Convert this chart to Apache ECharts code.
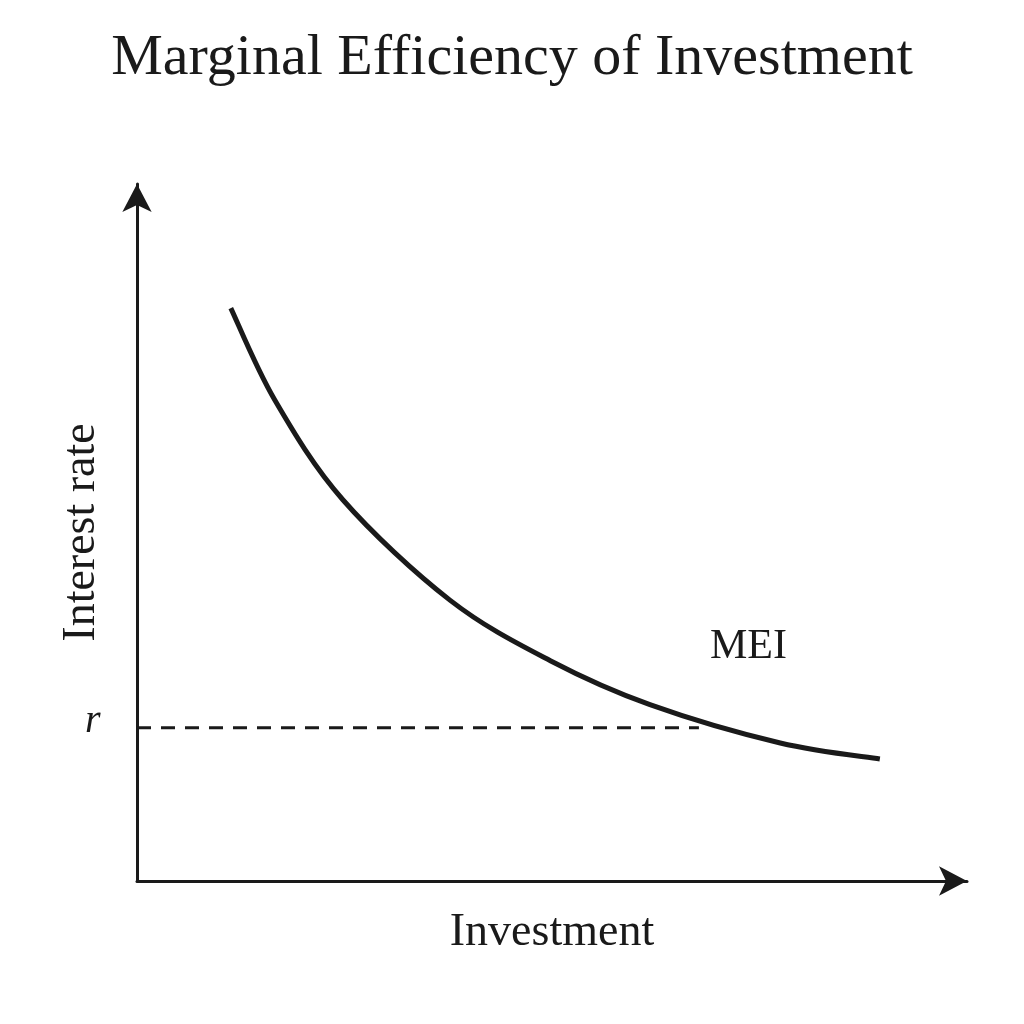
<!DOCTYPE html>
<html>
<head>
<meta charset="utf-8">
<script src="https://cdn.jsdelivr.net/npm/echarts@6/dist/echarts.min.js"></script>
<style>
  html, body { margin: 0; padding: 0; background: #fff; }
  #chart { width: 1024px; height: 1024px; }
</style>
</head>
<body>
<div id="chart"></div>
<script>
// MEI curve (investment, interest rate)
const meiX = [11.3, 16.6, 24.8, 37.7, 49.8, 61.8, 77.5, 89.5];
const meiY = [82.2, 69.0, 54.7, 40.3, 31.6, 25.3, 19.8, 17.5];
// interest rate r and where its dashed guide stops
const rateR = 22.0;
const rateEndX = 67.7;

const serif = "'Liberation Serif', 'DejaVu Serif', serif";
const ink = '#1a1a1a';

const chart = echarts.init(document.getElementById('chart'));

// smooth curve through the read points (catmull-rom -> bezier, in pixels)
function renderCurve(params, api) {
  const pts = meiX.map((x, i) => api.coord([x, meiY[i]]));
  let d = 'M' + pts[0][0] + ' ' + pts[0][1];
  for (let i = 0; i < pts.length - 1; i++) {
    const p0 = pts[Math.max(i - 1, 0)];
    const p1 = pts[i];
    const p2 = pts[i + 1];
    const p3 = pts[Math.min(i + 2, pts.length - 1)];
    const c1 = [p1[0] + (p2[0] - p0[0]) / 6, p1[1] + (p2[1] - p0[1]) / 6];
    const c2 = [p2[0] - (p3[0] - p1[0]) / 6, p2[1] - (p3[1] - p1[1]) / 6];
    d += ' C' + c1.join(' ') + ' ' + c2.join(' ') + ' ' + p2.join(' ');
  }
  return {
    type: 'path',
    shape: { pathData: d },
    style: { stroke: ink, lineWidth: 5, fill: null, lineCap: 'butt' }
  };
}

const option = {
  backgroundColor: '#fff',
  animation: false,
  title: {
    text: 'Marginal Efficiency of Investment',
    left: 'center',
    top: 25,
    textStyle: { fontFamily: serif, fontSize: 58, fontWeight: 'normal', color: ink }
  },
  grid: { left: 137, top: 184, right: 57, bottom: 143 },
  xAxis: {
    type: 'value',
    min: 0,
    max: 100,
    name: 'Investment',
    nameLocation: 'middle',
    nameGap: 29,
    nameTextStyle: { fontFamily: serif, fontSize: 46, color: ink },
    axisLine: {
      onZero: false,
      symbol: ['none', 'arrow'],
      symbolSize: [22, 28],
      lineStyle: { color: ink, width: 3 }
    },
    axisTick: { show: false },
    axisLabel: { show: false },
    splitLine: { show: false }
  },
  yAxis: {
    type: 'value',
    min: 0,
    max: 100,
    name: 'Interest rate',
    nameLocation: 'middle',
    nameRotate: 90,
    nameGap: 32,
    nameTextStyle: { fontFamily: serif, fontSize: 46, color: ink },
    axisLine: {
      onZero: false,
      symbol: ['none', 'arrow'],
      symbolSize: [22, 28],
      lineStyle: { color: ink, width: 3 }
    },
    axisTick: { show: false },
    axisLabel: { show: false },
    splitLine: { show: false }
  },
  graphic: [
    {
      type: 'text',
      left: 710,
      top: 626,
      style: { text: 'MEI', fontFamily: serif, fontSize: 42, fill: ink }
    }
  ],
  series: [
    {
      name: 'r',
      type: 'line',
      data: [[0, rateR], [rateEndX, rateR]],
      symbol: 'none',
      lineStyle: { color: ink, width: 3, type: [14, 10] },
      markPoint: {
        symbol: 'circle',
        symbolSize: 1,
        itemStyle: { color: 'rgba(0,0,0,0)' },
        data: [{
          coord: [0, rateR],
          label: {
            show: true,
            formatter: 'r',
            position: 'left',
            distance: 36,
            offset: [0, -6],
            fontFamily: serif,
            fontStyle: 'italic',
            fontSize: 40,
            color: ink
          }
        }]
      }
    },
    {
      name: 'MEI',
      type: 'custom',
      renderItem: renderCurve,
      data: [[meiX[0], meiY[0]]]
    }
  ]
};

chart.setOption(option);
</script>
</body>
</html>
